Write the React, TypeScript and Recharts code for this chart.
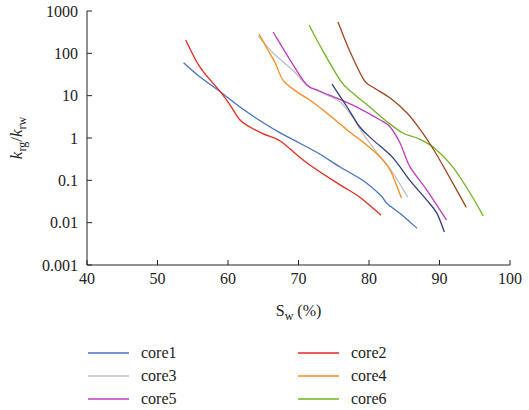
import { LineChart, Line, XAxis, YAxis, Label } from "recharts";

// Sw (%) and krg/krw, one pair of arrays per core
const core1Sw = [53.7, 56.0, 58.9, 61.7, 64.5, 67.4, 70.2, 73.0, 75.9, 79.1, 81.6, 82.6, 84.5, 86.8];
const core1Kr = [60, 28, 12.4, 5.4, 2.6, 1.32, 0.75, 0.42, 0.206, 0.1, 0.045, 0.028, 0.016, 0.0074];

const core2Sw = [54.0, 56.0, 58.9, 60.3, 61.7, 63.1, 65.0, 67.4, 71.2, 75.9, 78.7, 81.7];
const core2Kr = [207, 48, 12.4, 6.0, 2.66, 1.82, 1.25, 0.85, 0.257, 0.078, 0.04, 0.015];

const core3Sw = [64.3, 66.4, 69.2, 71.2, 74.0, 75.9, 77.7, 79.1, 81.6, 83.4, 85.5];
const core3Kr = [256, 102, 40, 17.8, 10.4, 7.1, 3.1, 1.31, 0.355, 0.149, 0.04];

const core4Sw = [64.4, 65.5, 66.7, 67.8, 69.8, 71.6, 74.0, 76.9, 79.5, 81.6, 83.0, 84.6];
const core4Kr = [286, 134, 59, 23.4, 12.2, 7.9, 3.9, 1.55, 0.72, 0.355, 0.175, 0.038];

const core5Sw = [66.4, 68.8, 71.2, 73.0, 77.7, 81.6, 83.0, 84.4, 85.8, 88.2, 91.0];
const core5Kr = [319, 70, 17.8, 12.9, 6.0, 2.66, 1.82, 0.76, 0.21, 0.059, 0.0115];

const core6Sw = [71.5, 73.0, 75.9, 77.7, 80.1, 82.6, 84.8, 86.8, 89.1, 91.9, 94.5, 96.2];
const core6Kr = [466, 157, 23.4, 11.5, 5.4, 2.4, 1.31, 1.0, 0.61, 0.206, 0.045, 0.0144];

// two more curves drawn in the plot with no legend entry
const core7Sw = [74.75, 76.9, 78.7, 80.6, 83.4, 85.8, 88.2, 89.6, 90.7];
const core7Kr = [18.8, 5.4, 1.82, 0.89, 0.34, 0.1, 0.034, 0.017, 0.006];

const core8Sw = [75.6, 77.2, 79.3, 80.8, 83.0, 85.4, 87.3, 89.2, 91.4, 93.8];
const core8Kr = [550, 120, 23.4, 15, 8.8, 3.9, 1.55, 0.52, 0.12, 0.023];

const xTicks = [40, 50, 60, 70, 80, 90, 100];
const yTicks = [0.001, 0.01, 0.1, 1, 10, 100, 1000];

const toPoints = (sw: number[], kr: number[]) => sw.map((x, i) => ({ x, y: kr[i] }));

const series = [
  { name: "core1", color: "#4472C4", data: toPoints(core1Sw, core1Kr), legend: true },
  { name: "core2", color: "#E8291C", data: toPoints(core2Sw, core2Kr), legend: true },
  { name: "core3", color: "#BFBFBF", data: toPoints(core3Sw, core3Kr), legend: true },
  { name: "core4", color: "#FF8A1A", data: toPoints(core4Sw, core4Kr), legend: true },
  { name: "core5", color: "#C03BC0", data: toPoints(core5Sw, core5Kr), legend: true },
  { name: "core6", color: "#72B41E", data: toPoints(core6Sw, core6Kr), legend: true },
  { name: "core7", color: "#2F3F7A", data: toPoints(core7Sw, core7Kr), legend: false },
  { name: "core8", color: "#A0451C", data: toPoints(core8Sw, core8Kr), legend: false },
];

// Excel-style smoothed line (Catmull-Rom through every point)
const smooth = (context: any) => {
  let pts: number[][] = [];
  return {
    areaStart() {},
    areaEnd() {},
    lineStart() {
      pts = [];
    },
    point(x: number, y: number) {
      pts.push([+x, +y]);
    },
    lineEnd() {
      if (!pts.length) return;
      context.moveTo(pts[0][0], pts[0][1]);
      for (let i = 0; i < pts.length - 1; i++) {
        const p0 = pts[i - 1] || pts[i];
        const p1 = pts[i];
        const p2 = pts[i + 1];
        const p3 = pts[i + 2] || p2;
        context.bezierCurveTo(
          p1[0] + (p2[0] - p0[0]) / 6,
          p1[1] + (p2[1] - p0[1]) / 6,
          p2[0] - (p3[0] - p1[0]) / 6,
          p2[1] - (p3[1] - p1[1]) / 6,
          p2[0],
          p2[1]
        );
      }
    },
  };
};

const font = "Times New Roman, Liberation Serif, serif";

function YTitle(props: any) {
  const { viewBox } = props;
  const cx = 22;
  const cy = viewBox.y + viewBox.height / 2;
  return (
    <text transform={`translate(${cx},${cy}) rotate(-90)`} textAnchor="middle" fontFamily={font} fontSize={17} fill="#222">
      <tspan fontStyle="italic">k</tspan>
      <tspan fontSize={12} dy={4}>rg</tspan>
      <tspan dy={-4}>/</tspan>
      <tspan fontStyle="italic">k</tspan>
      <tspan fontSize={12} dy={4}>rw</tspan>
    </text>
  );
}

function XTitle(props: any) {
  const { viewBox } = props;
  const cx = viewBox.x + viewBox.width / 2;
  return (
    <text x={cx} y={316} textAnchor="middle" fontFamily={font} fontSize={16} fill="#222">
      <tspan>S</tspan>
      <tspan fontSize={12} dy={4}>w</tspan>
      <tspan dy={-4}> (%)</tspan>
    </text>
  );
}

export default function App() {
  const legendItems = series.filter((s) => s.legend);
  return (
    <div style={{ position: "absolute", left: 0, top: 0, width: 529, height: 410, background: "#fff", fontFamily: font }}>
      <LineChart width={529} height={330} margin={{ top: 11, right: 19, left: 0, bottom: 5 }}>
        <XAxis
          type="number"
          dataKey="x"
          domain={[40, 100]}
          ticks={xTicks}
          allowDataOverflow
          stroke="#222"
          tickSize={-5}
          tickMargin={13}
          height={60}
          tick={{ fill: "#222", fontSize: 16, fontFamily: font }}
        >
          <Label content={XTitle} />
        </XAxis>
        <YAxis
          type="number"
          dataKey="y"
          scale="log"
          domain={[0.001, 1000]}
          ticks={yTicks}
          allowDataOverflow
          stroke="#222"
          width={87}
          tickSize={-5}
          tickMargin={14}
          tickFormatter={(v: number) => String(v)}
          tick={{ fill: "#222", fontSize: 16, fontFamily: font }}
        >
          <Label content={YTitle} />
        </YAxis>
        {series.map((s) => (
          <Line
            key={s.name}
            data={s.data}
            dataKey="y"
            name={s.name}
            type={smooth as any}
            stroke={s.color}
            strokeWidth={1.3}
            dot={false}
            isAnimationActive={false}
          />
        ))}
      </LineChart>
      {legendItems.map((s, i) => {
        const col = i % 2;
        const row = Math.floor(i / 2);
        const left = col === 0 ? 88 : 298;
        const top = 353 + row * 23;
        return (
          <div key={s.name} style={{ position: "absolute", left, top: top - 11, height: 22, display: "flex", alignItems: "center" }}>
            <svg width={42} height={22}>
              <line x1={0} x2={41} y1={11} y2={11} stroke={s.color} strokeWidth={1.5} />
            </svg>
            <span style={{ marginLeft: 11, fontSize: 16, color: "#222" }}>{s.name}</span>
          </div>
        );
      })}
    </div>
  );
}
